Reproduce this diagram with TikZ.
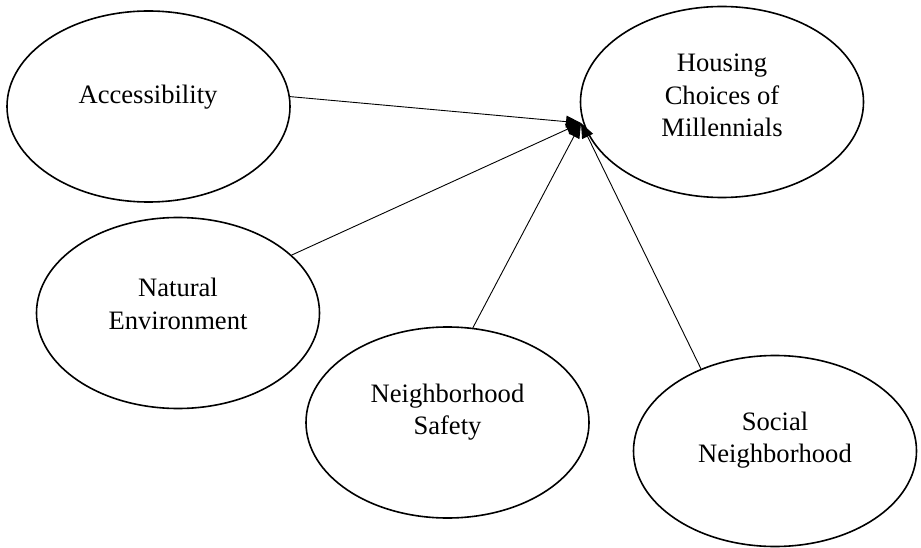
\documentclass[tikz,border=0pt]{standalone}
\usepackage{fontspec}
\setmainfont{Liberation Serif}
\usetikzlibrary{shapes.geometric,arrows.meta}
\begin{document}
\begin{tikzpicture}[x=1pt,y=-1pt,
  oval/.style={draw,ellipse,line width=1.6pt,minimum width=283pt,minimum height=191pt,inner sep=0pt},
  lbl/.style={align=center,inner sep=0pt,font=\fontsize{26.6}{32.5}\selectfont},
  link/.style={line width=0.9pt,-{Triangle[length=15pt,width=12pt]}}]
\useasboundingbox (0,0) rectangle (921,548);
\node[oval] (acc) at (148.5,106.5) {};
\node[oval] (hou) at (722,102) {};
\node[oval] (nat) at (178,313) {};
\node[oval] (saf) at (447.5,422.5) {};
\node[oval] (soc) at (775,451) {};
\node[lbl] (acct) at (148,97) {Accessibility};
\node[lbl] (hout) at (722,95.5) {Housing\\Choices of\\Millennials};
\node[lbl] (natt) at (178,304) {Natural\\Environment};
\node[lbl] (saft) at (447.5,412) {Neighborhood\\Safety};
\node[lbl] (soct) at (775,440) {Social\\Neighborhood};
\coordinate (tip) at (581,123);
\draw[link] (acc.4) -- (tip);
\draw[link] (nat.27) -- (tip);
\draw[link] (saf.75) -- (tip);
\draw[link] (soc.132) -- (tip);
\end{tikzpicture}
\end{document}
